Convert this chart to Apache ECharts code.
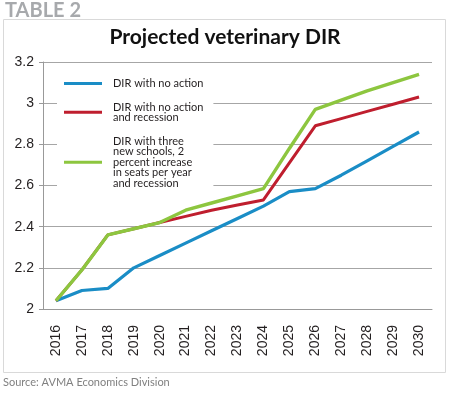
<!DOCTYPE html>
<html>
<head>
<meta charset="utf-8">
<script src="https://cdn.jsdelivr.net/npm/echarts@6/dist/echarts.min.js"></script>
<style>
  html, body { margin: 0; padding: 0; background: #fff; }
  #main { width: 450px; height: 397px; }
</style>
</head>
<body>
<div id="main"></div>
<script>
// years on the x axis
const years = ['2016', '2017', '2018', '2019', '2020', '2021', '2022', '2023',
  '2024', '2025', '2026', '2027', '2028', '2029', '2030'];

// values
const noAction = [2.04, 2.09, 2.10, 2.20, 2.26, 2.32, 2.38, 2.44, 2.50, 2.57, 2.585, 2.65, 2.72, 2.79, 2.86];
const noActionRecession = [2.04, 2.19, 2.36, 2.39, 2.42, 2.45, 2.48, 2.505, 2.53, 2.71, 2.89, 2.925, 2.96, 2.995, 3.03];
const threeSchools = [2.04, 2.19, 2.36, 2.39, 2.42, 2.48, 2.515, 2.55, 2.585, 2.78, 2.97, 3.015, 3.06, 3.10, 3.14];

const names = [
  'DIR with no action',
  'DIR with no action\nand recession',
  'DIR with three\nnew schools, 2\npercent increase\nin seats per year\nand recession'
];
const colors = ['#1a8dc6', '#bf1e2e', '#8dc63f'];

let chart = echarts.init(document.getElementById('main'), null, { renderer: 'canvas' });

const mkSeries = (i, data, w) => ({
  name: names[i],
  type: 'line',
  data: data,
  symbol: 'none',
  lineStyle: { width: w, color: colors[i] },
  itemStyle: { color: colors[i] },
  z: 2 + i
});

const option = {
  animation: false,
  color: colors,
  graphic: [
    {
      type: 'rect',
      shape: { x: 3.5, y: 19.5, width: 442, height: 353 },
      style: { fill: 'none', stroke: '#d9d9d9', lineWidth: 1 },
      z: -10
    },
    {
      type: 'text', left: 5, top: 1,
      style: { text: 'TABLE 2', font: 'bold 20px Lato', fill: '#a7a9ac' }
    },
    {
      type: 'text', left: 3, top: 377,
      style: { text: 'Source: AVMA Economics Division', font: '11px Lato', fill: '#808080' }
    }
  ],
  title: {
    text: 'Projected veterinary DIR',
    left: 'center',
    top: 27,
    padding: 0,
    textStyle: { fontFamily: 'Lato', fontWeight: 'bold', fontSize: 21, color: '#111' }
  },
  legend: {
    orient: 'vertical',
    left: 57,
    top: 70,
    padding: [8, 10, 8, 7],
    backgroundColor: '#fff',
    itemGap: 12.5,
    itemWidth: 38,
    itemHeight: 3,
    icon: 'rect',
    data: names,
    textStyle: {
      fontFamily: 'Lato',
      fontSize: 11,
      lineHeight: 10.6,
      color: '#231f20',
      padding: [0, 0, 0, 6]
    },
    z: 10
  },
  grid: { left: 43, right: 18, top: 62, bottom: 88 },
  xAxis: {
    type: 'category',
    data: years,
    boundaryGap: true,
    axisLine: { lineStyle: { color: '#999', width: 1 } },
    axisTick: { length: 5, lineStyle: { color: '#999' } },
    axisLabel: {
      rotate: 90,
      margin: 16,
      fontFamily: 'Liberation Sans',
      fontSize: 14,
      color: '#231f20'
    }
  },
  yAxis: {
    type: 'value',
    min: 2,
    max: 3.2,
    interval: 0.2,
    axisLine: { show: true, lineStyle: { color: '#999', width: 1 } },
    axisTick: { show: true, length: 4, lineStyle: { color: '#999' } },
    splitLine: { lineStyle: { color: '#a6a6a6', width: 1 } },
    axisLabel: {
      margin: 9,
      fontFamily: 'Liberation Sans',
      fontSize: 14,
      color: '#231f20',
      formatter: v => String(Math.round(v * 10) / 10)
    }
  },
  series: [
    mkSeries(0, noAction, 3.2),
    mkSeries(1, noActionRecession, 3),
    mkSeries(2, threeSchools, 3.4)
  ]
};

chart.setOption(option);
</script>
</body>
</html>
